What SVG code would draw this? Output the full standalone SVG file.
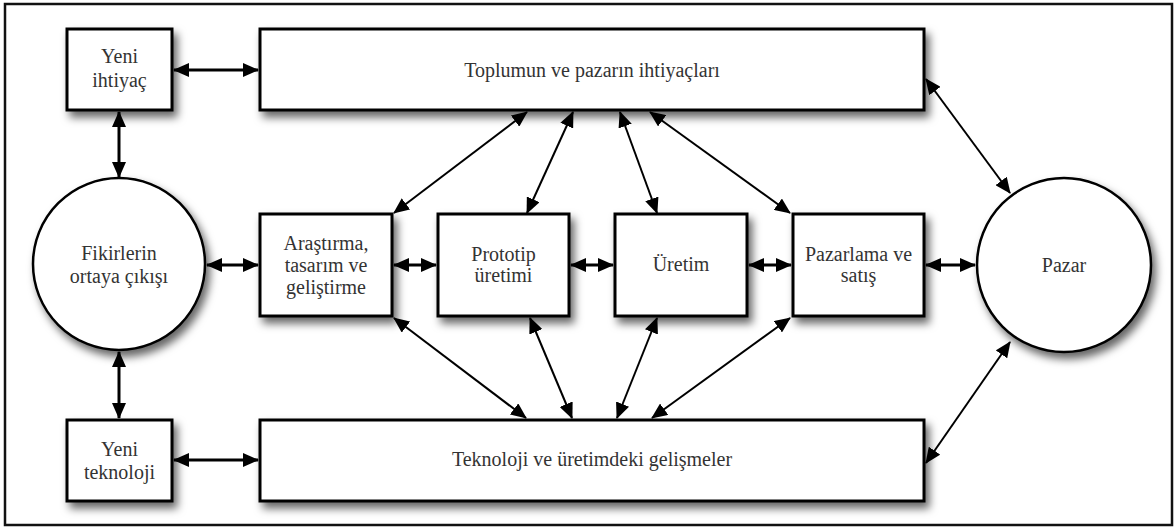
<svg xmlns="http://www.w3.org/2000/svg" width="1176" height="527" viewBox="0 0 1176 527">
<defs>
<filter id="sh" x="-20%" y="-20%" width="150%" height="160%">
<feDropShadow dx="4" dy="6" stdDeviation="4" flood-color="#000" flood-opacity="0.6"/>
</filter>
<marker id="ah" markerUnits="userSpaceOnUse" markerWidth="16" markerHeight="14" refX="15" refY="7" orient="auto-start-reverse" viewBox="0 0 16 14">
<path d="M0,0 L16,7 L0,14 z" fill="#000"/>
</marker>
<style>
.box{fill:#fff;stroke:#000;stroke-width:3;filter:url(#sh)}
.circ{fill:#fff;stroke:#000;stroke-width:2.5;filter:url(#sh)}
text{font-family:"Liberation Serif","Times New Roman",serif;font-size:20px;fill:#333;text-anchor:middle}
.c{stroke:#000;fill:none;marker-start:url(#ah);marker-end:url(#ah)}
.thick{stroke-width:3}
.thin{stroke-width:2}
</style>
</defs>
<rect x="5" y="4" width="1167" height="521" fill="#fff" stroke="#111" stroke-width="2.5"/>
<g id="connectors">
<line class="c thick" x1="174" y1="70" x2="258" y2="70"/>
<line class="c thick" x1="174" y1="460" x2="258" y2="460"/>
<line class="c thick" x1="119" y1="112" x2="119" y2="177"/>
<line class="c thick" x1="119" y1="352" x2="119" y2="418"/>
<line class="c thick" x1="207" y1="265" x2="258" y2="265"/>
<line class="c thick" x1="394" y1="265" x2="436" y2="265"/>
<line class="c thick" x1="571" y1="265" x2="613" y2="265"/>
<line class="c thick" x1="749" y1="265" x2="791" y2="265"/>
<line class="c thick" x1="926" y1="265" x2="975" y2="265"/>
<line class="c thin" x1="527" y1="112" x2="394" y2="213"/>
<line class="c thin" x1="573" y1="112" x2="527" y2="213"/>
<line class="c thin" x1="620" y1="112" x2="657" y2="213"/>
<line class="c thin" x1="650" y1="112" x2="790" y2="213"/>
<line class="c thin" x1="926" y1="79" x2="1010" y2="193"/>
<line class="c thin" x1="394" y1="318" x2="526" y2="418"/>
<line class="c thin" x1="530" y1="318" x2="572" y2="418"/>
<line class="c thin" x1="657" y1="318" x2="617" y2="418"/>
<line class="c thin" x1="790" y1="318" x2="652" y2="418"/>
<line class="c thin" x1="926" y1="463" x2="1010" y2="342"/>
</g>
<g id="yeni-ihtiyac">
<rect class="box" x="67" y="29" width="105" height="81"/>
<text><tspan x="119.5" y="63">Yeni</tspan><tspan x="119.5" y="87">ihtiyaç</tspan></text>
</g>
<g id="toplum">
<rect class="box" x="260" y="29" width="664" height="81"/>
<text x="592" y="77">Toplumun ve pazarın ihtiyaçları</text>
</g>
<g id="fikirler">
<circle class="circ" cx="119" cy="264" r="86"/>
<text><tspan x="119" y="260">Fikirlerin</tspan><tspan x="119" y="283">ortaya çıkışı</tspan></text>
</g>
<g id="arastirma">
<rect class="box" x="260" y="214" width="132" height="102"/>
<text><tspan x="326" y="250">Araştırma,</tspan><tspan x="326" y="272">tasarım ve</tspan><tspan x="326" y="294">geliştirme</tspan></text>
</g>
<g id="prototip">
<rect class="box" x="438" y="214" width="131" height="102"/>
<text><tspan x="503.5" y="261">Prototip</tspan><tspan x="503.5" y="282">üretimi</tspan></text>
</g>
<g id="uretim">
<rect class="box" x="615" y="214" width="132" height="102"/>
<text x="681" y="271">Üretim</text>
</g>
<g id="pazarlama">
<rect class="box" x="793" y="214" width="131" height="102"/>
<text><tspan x="858.5" y="261">Pazarlama ve</tspan><tspan x="858.5" y="282">satış</tspan></text>
</g>
<g id="pazar">
<circle class="circ" cx="1064" cy="265" r="87"/>
<text x="1064" y="272">Pazar</text>
</g>
<g id="yeni-teknoloji">
<rect class="box" x="67" y="420" width="105" height="81"/>
<text><tspan x="119.5" y="456">Yeni</tspan><tspan x="119.5" y="479">teknoloji</tspan></text>
</g>
<g id="teknoloji">
<rect class="box" x="260" y="420" width="664" height="81"/>
<text x="592" y="466">Teknoloji ve üretimdeki gelişmeler</text>
</g>
</svg>
